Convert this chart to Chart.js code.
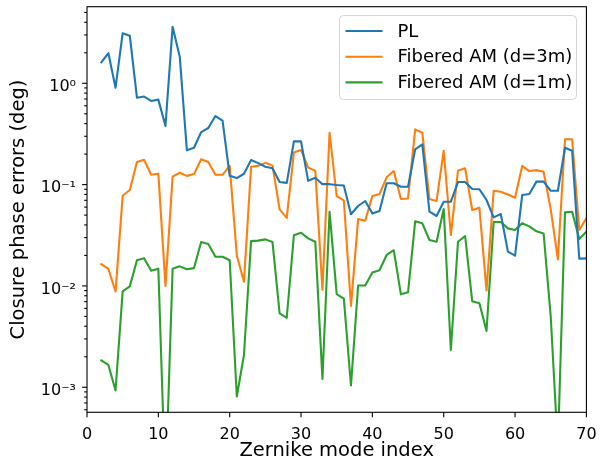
<!DOCTYPE html>
<html>
<head>
<meta charset="utf-8">
<script src="https://cdn.jsdelivr.net/npm/chart.js@4.4.1/dist/chart.umd.min.js"></script>
<style>
  html, body { margin: 0; padding: 0; background: #fff; }
  #wrap { width: 605px; height: 461px; }
</style>
</head>
<body>
<div id="wrap"><canvas id="chart" width="605" height="461"></canvas></div>
<script>
// Zernike mode indices
const modes = [2, 3, 4, 5, 6, 7, 8, 9, 10, 11, 12, 13, 14, 15, 16, 17, 18, 19, 20, 21,
  22, 23, 24, 25, 26, 27, 28, 29, 30, 31, 32, 33, 34, 35, 36, 37, 38, 39, 40, 41,
  42, 43, 44, 45, 46, 47, 48, 49, 50, 51, 52, 53, 54, 55, 56, 57, 58, 59, 60, 61,
  62, 63, 64, 65, 66, 67, 68, 69, 70];

// closure phase errors (deg)
const plErr = [1.61, 1.98, 0.905, 3.12, 2.95, 0.72, 0.74, 0.67, 0.69, 0.38,
  3.62, 1.83, 0.218, 0.231, 0.33, 0.362, 0.475, 0.428, 0.122, 0.116,
  0.128, 0.175, 0.163, 0.150, 0.145, 0.106, 0.104, 0.267, 0.267, 0.109,
  0.117, 0.101, 0.101, 0.099, 0.098, 0.051, 0.0615, 0.0689, 0.052, 0.0549,
  0.103, 0.103, 0.0954, 0.0954, 0.223, 0.25, 0.054, 0.049, 0.0678, 0.0678,
  0.106, 0.106, 0.0905, 0.09, 0.0705, 0.0475, 0.0513, 0.0218, 0.0199, 0.0789,
  0.0807, 0.107, 0.107, 0.087, 0.087, 0.231, 0.216, 0.0186, 0.0187];

const am3Err = [0.0164, 0.0147, 0.0088, 0.0777, 0.0885, 0.167, 0.176, 0.125, 0.128, 0.0100,
  0.120, 0.131, 0.122, 0.127, 0.178, 0.167, 0.125, 0.125, 0.153, 0.020,
  0.0110, 0.150, 0.153, 0.164, 0.154, 0.057, 0.047, 0.208, 0.22, 0.147,
  0.137, 0.0092, 0.325, 0.077, 0.070, 0.00634, 0.0457, 0.044, 0.077, 0.0807,
  0.118, 0.136, 0.072, 0.073, 0.351, 0.325, 0.072, 0.069, 0.216, 0.0318,
  0.137, 0.145, 0.0561, 0.0592, 0.0090, 0.087, 0.085, 0.080, 0.0743, 0.153,
  0.136, 0.139, 0.134, 0.057, 0.0183, 0.28, 0.28, 0.0356, 0.0465];

const am1Err = [0.00184, 0.00166, 0.00093, 0.00885, 0.0099, 0.0179, 0.0188, 0.0141, 0.0148, 0.0001,
  0.0148, 0.0156, 0.0146, 0.0150, 0.0271, 0.0259, 0.0194, 0.0194, 0.0179, 0.00081,
  0.00208, 0.0277, 0.0280, 0.0288, 0.0271, 0.00536, 0.00485, 0.0316, 0.0335, 0.0295,
  0.0273, 0.00121, 0.054, 0.0083, 0.0075, 0.00104, 0.0101, 0.0101, 0.0136, 0.0143,
  0.0202, 0.0225, 0.00826, 0.00865, 0.0434, 0.0415, 0.0284, 0.0273, 0.0574, 0.00233,
  0.0273, 0.0311, 0.00705, 0.00673, 0.00359, 0.0428, 0.0428, 0.037, 0.0356, 0.0415,
  0.0387, 0.0346, 0.033, 0.005, 0.00025, 0.0532, 0.054, 0.029, 0.0343];

const seriesNames = ['PL', 'Fibered AM (d=3m)', 'Fibered AM (d=1m)'];
const seriesColors = ['#1f77b4', '#ff7f0e', '#2ca02c'];

// axes
const xTicks = [0, 10, 20, 30, 40, 50, 60, 70];
const yMajorTicks = [0.001, 0.01, 0.1, 1];
const yTickLabels = ['10\u207B\u00B3', '10\u207B\u00B2', '10\u207B\u00B9', '10\u2070'];
const yMin = 5.66e-4, yMax = 5.7;

const FONT = 'DejaVu Sans';

function pts(vals) { return modes.map((m, i) => ({ x: m, y: vals[i] })); }

// minor ticks at 2..9 x 10^n inside the range
function logTickValues() {
    const out = [];
    for (let e = -4; e <= 0; e++) {
        for (let k = 1; k <= 9; k++) {
            const v = k * Math.pow(10, e);
            if (v >= yMin && v <= yMax) out.push(v);
        }
    }
    return out;
}

const frameTicks = {
    id: 'frameTicks',
    afterDatasetsDraw(chart) {
        const { ctx, chartArea: a, scales } = chart;
        ctx.save();
        ctx.strokeStyle = '#000';
        ctx.lineWidth = 1.1;
        // y ticks
        scales.y.ticks.forEach(t => {
            const p = scales.y.getPixelForValue(t.value);
            const major = yMajorTicks.some(v => Math.abs(v - t.value) / v < 1e-6);
            const len = major ? 4.9 : 2.8;
            ctx.beginPath();
            ctx.moveTo(a.left - len, p);
            ctx.lineTo(a.left, p);
            ctx.stroke();
        });
        // x ticks
        scales.x.ticks.forEach(t => {
            const p = scales.x.getPixelForValue(t.value);
            ctx.beginPath();
            ctx.moveTo(p, a.bottom);
            ctx.lineTo(p, a.bottom + 4.9);
            ctx.stroke();
        });
        ctx.strokeRect(a.left, a.top, a.right - a.left, a.bottom - a.top);

        // legend
        const lx = 339.5, ly = 15.5, lw = 237, lh = 84;
        ctx.beginPath();
        ctx.roundRect(lx, ly, lw, lh, 4);
        ctx.fillStyle = 'rgba(255,255,255,0.8)';
        ctx.fill();
        ctx.strokeStyle = 'rgba(204,204,204,0.8)';
        ctx.lineWidth = 1;
        ctx.stroke();
        ctx.font = '18px "' + FONT + '"';
        ctx.textBaseline = 'middle';
        ctx.fillStyle = '#000';
        chart.data.datasets.forEach((ds, i) => {
            const ry = 31 + i * 25.7;
            ctx.strokeStyle = ds.borderColor;
            ctx.lineWidth = 2.1;
            ctx.beginPath();
            ctx.moveTo(345.5, ry);
            ctx.lineTo(382.5, ry);
            ctx.stroke();
            ctx.fillText(ds.label, 397.5, ry + 1);
        });
        ctx.restore();
    }
};

new Chart(document.getElementById('chart'), {
    type: 'line',
    data: {
        datasets: [plErr, am3Err, am1Err].map((vals, i) => ({
            label: seriesNames[i],
            data: pts(vals),
            borderColor: seriesColors[i],
            backgroundColor: seriesColors[i],
            borderWidth: 2.1,
            pointRadius: 0,
            tension: 0,
            fill: false,
            clip: 0,
            borderJoinStyle: 'round',
            borderCapStyle: 'square'
        }))
    },
    options: {
        responsive: false,
        devicePixelRatio: 1,
        animation: false,
        layout: { padding: { left: 0, top: 6.7, right: 18.6, bottom: 0 } },
        plugins: { legend: { display: false }, tooltip: { enabled: false } },
        scales: {
            x: {
                type: 'linear',
                min: 0, max: 70,
                afterBuildTicks: s => { s.ticks = xTicks.map(v => ({ value: v })); },
                afterFit: s => { s.height = 48.7; s.paddingLeft = 0; s.paddingRight = 0; },
                grid: { display: false, drawTicks: false },
                border: { display: false },
                ticks: { color: '#000', font: { family: FONT, size: 16 }, padding: 13, maxRotation: 0, autoSkip: false },
                title: { display: true, text: 'Zernike mode index', color: '#000',
                    font: { family: FONT, size: 19.5, lineHeight: 1 }, padding: { top: 0, bottom: 0 } }
            },
            y: {
                type: 'logarithmic',
                min: yMin, max: yMax,
                afterBuildTicks: s => { s.ticks = logTickValues().map(v => ({ value: v })); },
                afterFit: s => { s.width = 87; s.paddingTop = 0; s.paddingBottom = 0; },
                grid: { display: false, drawTicks: false },
                border: { display: false },
                ticks: {
                    color: '#000', font: { family: FONT, size: 16 }, padding: 11, labelOffset: 3.5, autoSkip: false,
                    callback: v => {
                        const k = yMajorTicks.findIndex(m => Math.abs(m - v) / m < 1e-6);
                        return k >= 0 ? yTickLabels[k] : '';
                    }
                },
                title: { display: true, text: 'Closure phase errors (deg)', color: '#000',
                    font: { family: FONT, size: 19.5, lineHeight: 1 }, padding: { top: 8.75, bottom: 0 } }
            }
        }
    },
    plugins: [frameTicks]
});
</script>
</body>
</html>
